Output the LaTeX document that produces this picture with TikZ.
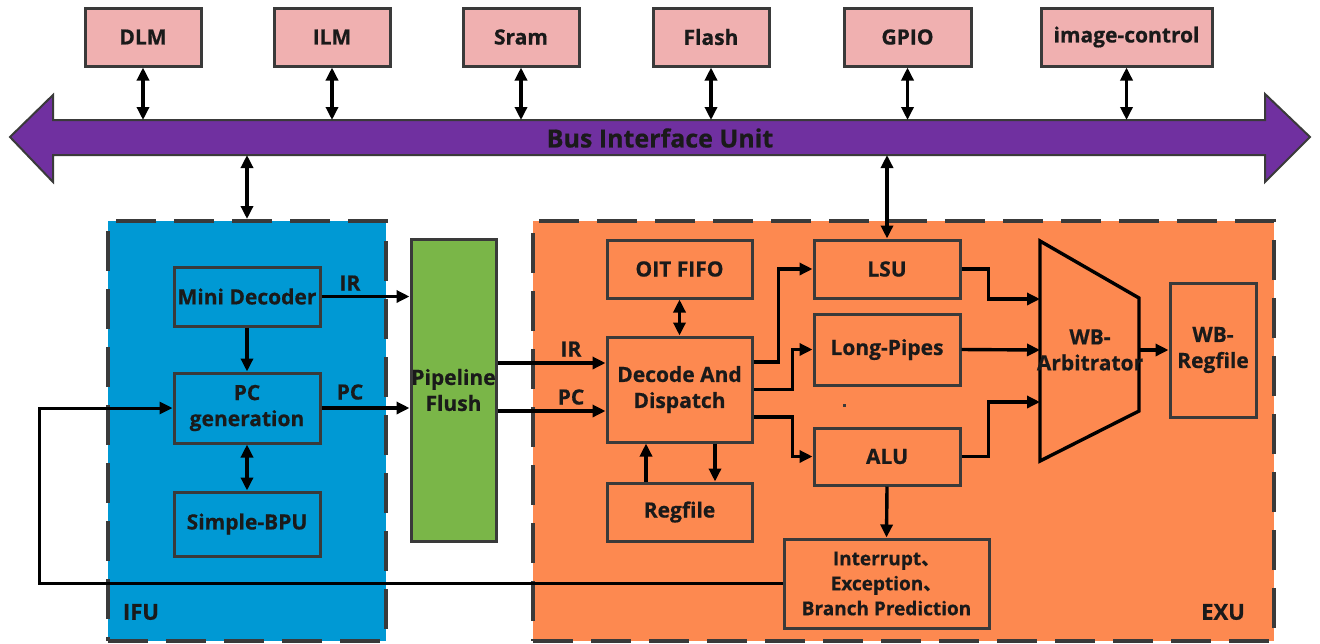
\documentclass[tikz,border=0pt]{standalone}
\usepackage{fontspec}
\setmainfont{Open Sans}[BoldFeatures={FakeBold=0.6}]
\newfontfamily\cjk{Noto Sans CJK SC}
\usetikzlibrary{arrows.meta}

\definecolor{edge}{HTML}{3A3A3A}
\definecolor{ink}{HTML}{1A1A1A}
\definecolor{periph}{HTML}{F0B0B0}
\definecolor{busc}{HTML}{7030A0}
\definecolor{ifuc}{HTML}{0099D4}
\definecolor{flushc}{HTML}{7AB648}
\definecolor{exuc}{HTML}{FD8950}

\tikzset{
  sz/.style 2 args={minimum width=#1*0.5pt, minimum height=#2*0.5pt},
  unit/.style={draw=edge, line width=1.5pt, inner sep=0pt, align=center,
    text=ink, font=\bfseries\fontsize{10.5}{13}\selectfont},
  periphbox/.style={unit, fill=periph},
  exubox/.style={unit, fill=exuc},
  ifubox/.style={unit, fill=ifuc},
  region/.style={draw=edge, line width=2pt, dash pattern=on 20pt off 9pt, inner sep=0pt},
  lbl/.style={text=ink, font=\bfseries\fontsize{10.5}{13}\selectfont, inner sep=0pt, align=center},
  tip/.tip={Triangle[length=6.5pt,width=6pt]},
  arr/.style={draw=black, line width=1.7pt, -tip},
  darr/.style={draw=black, line width=1.7pt, tip-tip}
}

\begin{document}
\begin{tikzpicture}[x=0.5pt, y=-0.5pt]
\useasboundingbox (0,0) rectangle (1320,643);

% ---------- system bus ----------
\filldraw[fill=busc, draw=edge, line width=1pt, line join=miter]
  (10,137) -- (53,95) -- (53,120) -- (1265,120) -- (1265,94) -- (1310,137)
  -- (1265,182) -- (1265,155) -- (53,155) -- (53,182) -- cycle;
\node[lbl, font=\bfseries\fontsize{12.5}{15}\selectfont] (bus) at (660,138) {Bus Interface Unit};
\coordinate (bustop) at (0,120);
\coordinate (busbot) at (0,155);

% ---------- peripherals ----------
\node[periphbox, sz={116}{58}] (dlm)   at (143,37)    {DLM};
\node[periphbox, sz={116}{58}] (ilm)   at (332,37)    {ILM};
\node[periphbox, sz={116}{58}] (sram)  at (521,37)    {Sram};
\node[periphbox, sz={116}{58}] (flash) at (711,37)    {Flash};
\node[periphbox, sz={127}{58}] (gpio)  at (907.5,37)  {GPIO};
\node[periphbox, sz={171}{58}] (imgc)  at (1126.5,37) {image-control};

\foreach \p in {dlm,ilm,sram,flash,gpio,imgc}
  \draw[darr] (\p.south) -- (\p.south |- bustop);

% ---------- unit regions ----------
\node[region, fill=ifuc, sz={278}{420}] (ifu) at (247,431) {};
\node[region, fill=exuc, sz={741}{420}] (exu) at (903.5,431) {};
\node[lbl, font=\bfseries\fontsize{11}{13}\selectfont] (ifulbl) at (141,612) {IFU};
\node[lbl, font=\bfseries\fontsize{11}{13}\selectfont] (exulbl) at (1223,612) {EXU};

% ---------- IFU ----------
\node[ifubox, sz={146}{59}] (md)  at (247,296.5) {Mini Decoder};
\node[ifubox, sz={146}{70}] (pcg) at (247,408)   {PC\\generation};
\node[ifubox, sz={146}{64}] (bpu) at (247,524)   {Simple-BPU};

\node[unit, fill=flushc, sz={85}{302}] (pf) at (453.5,390) {Pipeline\\Flush};

\draw[arr]  (md.south) -- (pcg.north);
\draw[darr] (pcg.south) -- (bpu.north);
\draw[arr]  (md.east) -- (md.east -| pf.west);
\draw[arr]  (pcg.east) -- (pcg.east -| pf.west);
\node[lbl] (irl1) at (350,283) {IR};
\node[lbl] (pcl1) at (350,392) {PC};

\draw[darr] (ifu.north) -- (ifu.north |- busbot);

% ---------- EXU ----------
\node[exubox, sz={145}{58}]  (oit) at (679.5,269)   {OIT FIFO};
\node[exubox, sz={145}{105}] (dec) at (679.5,389.5) {Decode And\\Dispatch};
\node[exubox, sz={145}{58}]  (reg) at (679.5,512)   {Regfile};
\node[exubox, sz={146}{58}]  (lsu) at (887,269)     {LSU};
\node[exubox, sz={146}{71}]  (lp)  at (887,349.5)   {Long-Pipes};
\node[exubox, sz={146}{57}]  (alu) at (887,456.5)   {ALU};
\node[exubox, sz={205}{89}, font=\bfseries\fontsize{9.5}{12.5}\selectfont]
  (intr) at (886.5,583.5) {Interrupt{\cjk 、}\\Exception{\cjk 、}\\Branch Prediction};
\node[exubox, sz={86}{134}]  (wbr) at (1213,350)    {WB-\\Regfile};

% write-back arbiter
\filldraw[fill=exuc, draw=black, line width=1.7pt, line join=miter]
  (1040,241) -- (1139,298) -- (1139,411) -- (1040,461) -- cycle;
\node[lbl] (wba) at (1090,350) {WB-\\Arbitrator};
\coordinate (wbin1) at (1040,299);
\coordinate (wbin2) at (1040,350);
\coordinate (wbin3) at (1040,402);
\coordinate (wbout) at (1139,350);

% IR / PC into dispatch
\coordinate (irY) at (0,363);
\coordinate (pcY) at (0,411);
\draw[arr] (pf.east |- irY) -- (dec.west |- irY);
\draw[arr] (pf.east |- pcY) -- (dec.west |- pcY);
\node[lbl] (irl2) at (571,349) {IR};
\node[lbl] (pcl2) at (571,397) {PC};

\draw[darr] (oit.south) -- (dec.north);
\draw[arr] ([xshift=-16.75pt]reg.north) -- ([xshift=-16.75pt]dec.south);
\draw[arr] ([xshift=17.75pt]dec.south) -- ([xshift=17.75pt]reg.north);

% dispatch to execution units
\draw[arr] ([yshift=13.75pt]dec.east) -- ++(25,0) |- (lsu.west);
\draw[arr] (dec.east) -- ++(39,0) |- (lp.west);
\draw[arr] ([yshift=-13.75pt]dec.east) -- ++(39,0) |- (alu.west);

% execution units to write-back
\draw[arr] (lsu.east) -- ++(27,0) |- (wbin1);
\draw[arr] (lp.east) -- (wbin2);
\draw[arr] (alu.east) -- ++(27,0) |- (wbin3);
\draw[arr] (wbout) -- (wbr.west);

\draw[arr] (alu.south) -- (intr.north);
\draw[darr] (lsu.north) -- (lsu.north |- busbot);

% redirect path back to PC generation
\coordinate (fbx) at (39,0);
\draw[arr, line width=1.5pt] (intr.west) -- (intr.west -| fbx) |- (pcg.west);

\fill[edge] (843,404) rectangle (845.5,406.5);
\end{tikzpicture}
\end{document}
